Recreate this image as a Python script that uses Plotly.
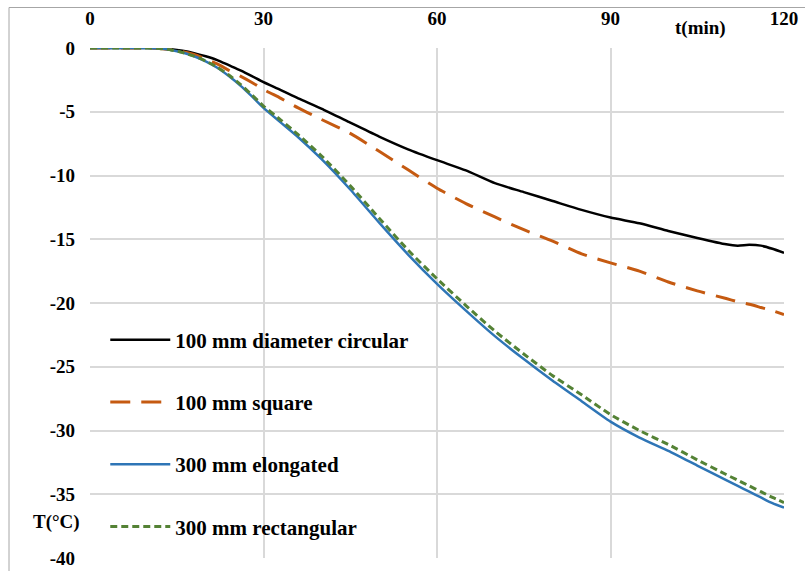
import plotly.graph_objects as go

t = [0, 5, 10, 12, 14, 16, 18, 20, 22, 24, 26, 28, 30, 33, 36, 40, 45, 50, 55, 60, 65, 70, 75, 80, 85, 90, 95, 100, 105, 110, 112, 114, 116, 118, 120]

circ = [0, 0, 0, -0.03, -0.1, -0.22, -0.4, -0.65, -0.95, -1.35, -1.75, -2.2, -2.68, -3.3, -3.95, -4.75, -5.85, -6.95, -7.95, -8.8, -9.6, -10.6, -11.3, -12.0, -12.7, -13.3, -13.75, -14.35, -14.9, -15.4, -15.5, -15.44, -15.5, -15.75, -16.07]
square = [0, 0, 0, -0.03, -0.12, -0.28, -0.5, -0.85, -1.25, -1.75, -2.2, -2.7, -3.25, -3.95, -4.7, -5.6, -6.7, -8.1, -9.55, -11.0, -12.2, -13.25, -14.25, -15.15, -16.15, -16.85, -17.5, -18.35, -19.05, -19.65, -19.9, -20.1, -20.35, -20.6, -20.9]
elong = [0, 0, 0, -0.04, -0.15, -0.35, -0.65, -1.05, -1.55, -2.2, -2.95, -3.8, -4.7, -5.85, -7.0, -8.7, -11.1, -13.7, -16.2, -18.5, -20.6, -22.6, -24.4, -26.1, -27.7, -29.3, -30.55, -31.6, -32.75, -33.9, -34.35, -34.8, -35.25, -35.7, -36.05]
rect = [0, 0, 0, -0.04, -0.15, -0.35, -0.64, -1.02, -1.5, -2.12, -2.85, -3.68, -4.55, -5.65, -6.8, -8.45, -10.8, -13.35, -15.85, -18.1, -20.2, -22.2, -24.0, -25.7, -27.2, -28.75, -30.0, -31.1, -32.3, -33.45, -33.9, -34.35, -34.8, -35.25, -35.65]

names = ["100 mm diameter circular", "100 mm square", "300 mm elongated", "300 mm rectangular"]
colors = ["#000000", "#C55A11", "#2E75B6", "#548235"]
dashes = ["solid", "20px,11px", "solid", "7px,4px"]
widths = [2.5, 3, 2.5, 3]
xticks = [0, 30, 60, 90, 120]
yticks = [0, -5, -10, -15, -20, -25, -30, -35, -40]

FONT = "Liberation Serif"

fig = go.Figure()
for i, ys in enumerate([circ, square, elong, rect]):
    fig.add_trace(go.Scatter(
        x=t, y=ys, mode="lines", name=names[i], legendgroup=str(i),
        line=dict(color=colors[i], width=widths[i], dash=dashes[i], shape="spline", smoothing=0.6),
    ))

fig.update_layout(
    width=805, height=571,
    margin=dict(l=90, r=21, t=48, b=13),
    paper_bgcolor="white", plot_bgcolor="white",
    font=dict(family=FONT, size=19, color="black"),
    showlegend=True,
    legend=dict(
        x=0.022, y=0.4676, xanchor="left", yanchor="top",
        bgcolor="rgba(0,0,0,0)", borderwidth=0,
        font=dict(family=FONT, size=21, color="black", weight="bold"),
        traceorder="grouped", tracegroupgap=32, itemwidth=60,
    ),
    xaxis=dict(
        range=[0, 120], side="top", tickvals=xticks, ticktext=[str(v) for v in xticks],
        showgrid=True, gridcolor="#D9D9D9", gridwidth=1.5, zeroline=False,
        showline=False, ticks="", ticklabelstandoff=18, automargin=False,
        tickfont=dict(family=FONT, size=19, color="black", weight="bold"),
    ),
    yaxis=dict(
        range=[-40, 0], tickvals=yticks, ticktext=[str(v) for v in yticks],
        showgrid=True, gridcolor="#D9D9D9", gridwidth=1.5, zeroline=False,
        showline=False, ticks="", ticklabelstandoff=14, automargin=False,
        tickfont=dict(family=FONT, size=19, color="black", weight="bold"),
    ),
    annotations=[
        dict(text="t(min)", x=0.879, y=1.04, xref="paper", yref="paper",
             xanchor="center", yanchor="middle",
             showarrow=False, font=dict(family=FONT, size=19, color="black", weight="bold")),
        dict(text="T(°C)", x=-0.048, y=0.07, xref="paper", yref="paper",
             xanchor="center", yanchor="middle",
             showarrow=False, font=dict(family=FONT, size=19, color="black", weight="bold")),
    ],
    shapes=[
        dict(type="rect", xref="paper", yref="paper", x0=-0.1167, x1=1.2, y0=-0.2, y1=1.0794,
             line=dict(color="#A6A6A6", width=1), fillcolor="rgba(0,0,0,0)", layer="below"),
    ],
)

fig.write_html("out.html")
